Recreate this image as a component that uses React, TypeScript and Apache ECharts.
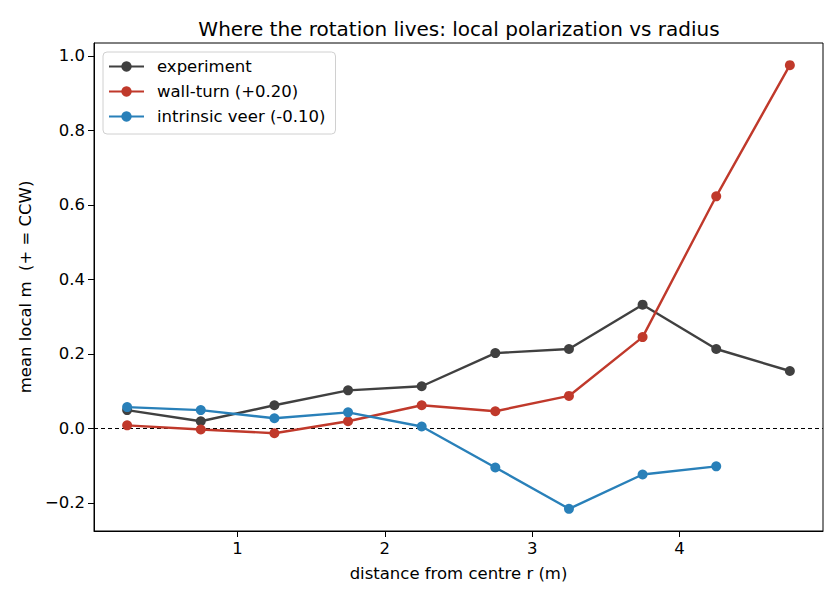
import React, { useEffect, useRef } from "react";
import * as echarts from "echarts";

const radius = [0.25, 0.75, 1.25, 1.75, 2.25, 2.75, 3.25, 3.75, 4.25, 4.75];
const experiment = [0.049, 0.019, 0.062, 0.102, 0.113, 0.202, 0.213, 0.332, 0.213, 0.154];
const wallTurn = [0.008, -0.003, -0.013, 0.019, 0.062, 0.046, 0.087, 0.245, 0.623, 0.975];
const intrinsicVeer = [0.057, 0.049, 0.027, 0.043, 0.005, -0.105, -0.216, -0.124, -0.102];
const xTicks = [1, 2, 3, 4];
const yTicks = [-0.2, 0, 0.2, 0.4, 0.6, 0.8, 1.0];

const FONT = "DejaVu Sans";
const FS = 16.5;

function pairs(ys: number[]) {
  return ys.map((y, i) => [radius[i], y]);
}

export default function App() {
  const ref = useRef<HTMLDivElement>(null);
  useEffect(() => {
    if (!ref.current) return;
    const chart = echarts.init(ref.current, null, { renderer: "svg" });
    const mkSeries = (name: string, data: number[], color: string, extra: any = {}) => ({
      name,
      type: "line",
      data: pairs(data),
      symbol: "circle",
      symbolSize: 10,
      showSymbol: true,
      lineStyle: { color, width: 2.4 },
      itemStyle: { color },
      emphasis: { disabled: true },
      z: 3,
      ...extra,
    });
    chart.setOption({
      animation: false,
      backgroundColor: "#ffffff",
      textStyle: { fontFamily: FONT },
      title: {
        text: "Where the rotation lives: local polarization vs radius",
        left: 454,
        textAlign: "center",
        top: 14,
        textStyle: { fontFamily: FONT, fontSize: 20, fontWeight: "normal", color: "#000" },
      },
      grid: {
        left: 94,
        top: 43,
        right: 17,
        bottom: 69,
        show: true,
        borderColor: "#000",
        borderWidth: 1,
        backgroundColor: "transparent",
      },
      legend: {
        left: 103,
        top: 52,
        orient: "vertical",
        itemWidth: 35,
        itemHeight: 13,
        itemGap: 8,
        padding: [6, 10, 9, 5],
        borderColor: "#d0d0d0",
        borderWidth: 1,
        borderRadius: 4,
        backgroundColor: "rgba(255,255,255,0.8)",
        textStyle: { fontFamily: FONT, fontSize: FS, color: "#000", padding: [0, 0, 0, 8] },
        data: ["experiment", "wall-turn (+0.20)", "intrinsic veer (-0.10)"],
      },
      xAxis: {
        type: "value",
        min: 0.025,
        max: 4.975,
        name: "distance from centre r (m)",
        nameLocation: "middle",
        nameGap: 34,
        nameTextStyle: { fontFamily: FONT, fontSize: FS, color: "#000" },
        axisLine: { show: true, onZero: false, lineStyle: { color: "#000", width: 1 } },
        axisTick: { show: true, customValues: xTicks, length: 6, lineStyle: { color: "#000" } },
        axisLabel: {
          customValues: xTicks,
          fontFamily: FONT,
          fontSize: FS,
          color: "#000",
          margin: 9,
          formatter: (v: number) => String(v),
        },
        splitLine: { show: false },
      },
      yAxis: {
        type: "value",
        min: -0.2756,
        max: 1.0346,
        name: "mean local m  (+ = CCW)",
        nameLocation: "middle",
        nameGap: 58,
        nameTextStyle: { fontFamily: FONT, fontSize: FS, color: "#000" },
        axisLine: { show: true, onZero: false, lineStyle: { color: "#000", width: 1 } },
        axisTick: { show: true, customValues: yTicks, length: 6, lineStyle: { color: "#000" } },
        axisLabel: {
          customValues: yTicks,
          fontFamily: FONT,
          fontSize: FS,
          color: "#000",
          margin: 9,
          formatter: (v: number) => v.toFixed(1).replace("-", "\u2212"),
        },
        splitLine: { show: false },
      },
      series: [
        mkSeries("experiment", experiment, "#404040", {
          markLine: {
            silent: true,
            symbol: "none",
            label: { show: false },
            lineStyle: { color: "#000", type: [4, 3], width: 1 },
            data: [{ yAxis: 0 }],
          },
          z: 4,
        }),
        mkSeries("wall-turn (+0.20)", wallTurn, "#c0392b", { z: 5 }),
        mkSeries("intrinsic veer (-0.10)", intrinsicVeer, "#2980b9", { z: 6 }),
      ],
    });
    return () => chart.dispose();
  }, []);
  return (
    <div
      ref={ref}
      style={{ position: "absolute", left: 0, top: 0, width: 840, height: 600, background: "#fff" }}
    />
  );
}
